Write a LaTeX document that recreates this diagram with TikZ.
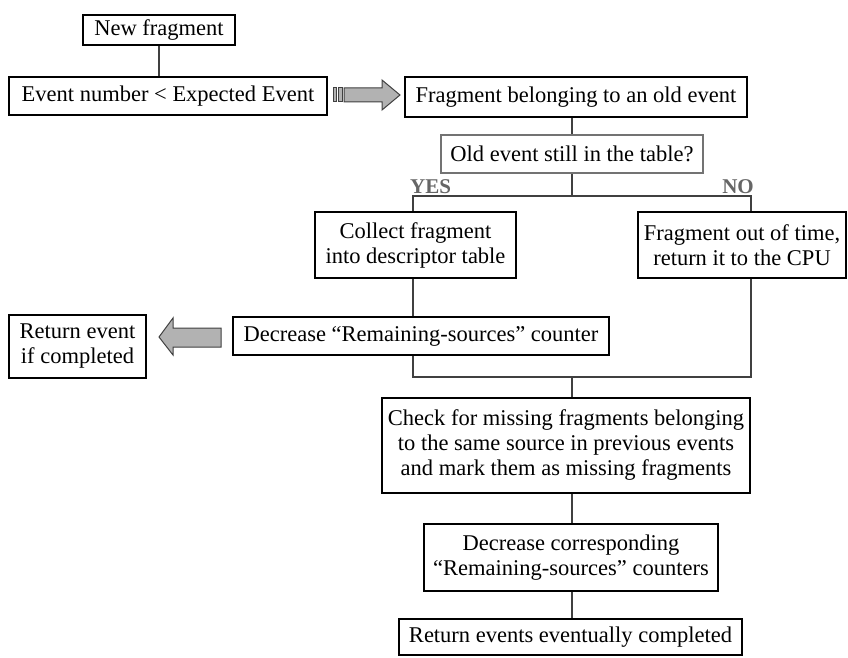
\documentclass[tikz,border=0pt]{standalone}
\usepackage{fontspec}
\setmainfont{Liberation Serif}
\usetikzlibrary{calc}
\begin{document}
\begin{tikzpicture}[x=1pt,y=-1pt,
  box/.style={draw=black, line width=2.3pt, fill=white, inner sep=0pt, align=center,
    font=\fontsize{22.5}{25}\selectfont},
  graybox/.style={box, draw=black!55},
  conn/.style={draw=black!75, line width=1.2pt},
  lab/.style={font=\fontsize{21}{21}\selectfont\bfseries, text=black!60, inner sep=0pt},
  blockarrow/.style={fill=black!30, draw=black!75, line width=1pt, line join=miter}]
\useasboundingbox (0,0) rectangle (848,658);

% boxes
\node[box, minimum width=152pt, minimum height=30pt] (nf) at (159,30) {New fragment};
\node[box, minimum width=318pt, minimum height=38pt] (ev) at (168,96) {Event number < Expected Event};
\node[box, minimum width=342pt, minimum height=40pt] (fb) at (576,97) {Fragment belonging to an old event};
\node[graybox, minimum width=262pt, minimum height=38pt] (old) at (572,154) {Old event still in the table?};
\node[box, minimum width=201pt, minimum height=66pt] (col) at (415.5,245) {Collect fragment\\into descriptor table};
\node[box, minimum width=208pt, minimum height=66pt] (out) at (742,245) {Fragment out of time,\\return it to the CPU};
\node[box, minimum width=376pt, minimum height=38pt] (dec) at (421,336) {Decrease “Remaining-sources” counter};
\node[box, minimum width=137pt, minimum height=63pt] (ret) at (77.5,346.5) {Return event\\if completed};
\node[box, minimum width=368pt, minimum height=95pt] (chk) at (566,445.5) {Check for missing fragments belonging\\to the same source in previous events\\and mark them as missing fragments};
\node[box, minimum width=294pt, minimum height=67pt] (dc2) at (571,557.5) {Decrease corresponding\\“Remaining-sources” counters};
\node[box, minimum width=343pt, minimum height=36pt] (re2) at (570.5,637) {Return events eventually completed};

% labels
\node[lab, anchor=base west] (yes) at (410,193) {YES};
\node[lab, anchor=base east] (no) at (754,193) {NO};

% junction coordinates
\coordinate (xl) at (413,196);
\coordinate (xm) at (572,196);
\coordinate (xr) at (751,196);
\coordinate (bl) at (413,377);
\coordinate (bm) at (572,377);
\coordinate (br) at (751,377);

% connectors
\draw[conn] (nf.south) -- (ev.north -| nf.south);
\draw[conn] (fb.south -| xm) -- (old.north -| xm);
\draw[conn] (old.south -| xm) -- (xm);
\draw[conn] (col.north -| xl) -- (xl) -- (xr) -- (out.north -| xr);
\draw[conn] (col.south -| xl) -- (dec.north -| xl);
\draw[conn] (dec.south -| bl) -- (bl) -- (br) -- (out.south -| br);
\draw[conn] (bm) -- (chk.north -| bm);
\draw[conn] (chk.south -| bm) -- (dc2.north -| bm);
\draw[conn] (dc2.south -| bm) -- (re2.north -| bm);

% block arrows
\draw[blockarrow] (344,88) -- (382,88) -- (382,80) -- (400,95) -- (382,110) -- (382,102) -- (344,102) -- cycle;
\draw[blockarrow] (333,88) rectangle (336,102);
\draw[blockarrow] (338.5,88) rectangle (342,102);
\draw[blockarrow] (221,328) -- (173,328) -- (173,318) -- (159,337) -- (173,355) -- (173,347) -- (221,347) -- cycle;
\end{tikzpicture}
\end{document}
